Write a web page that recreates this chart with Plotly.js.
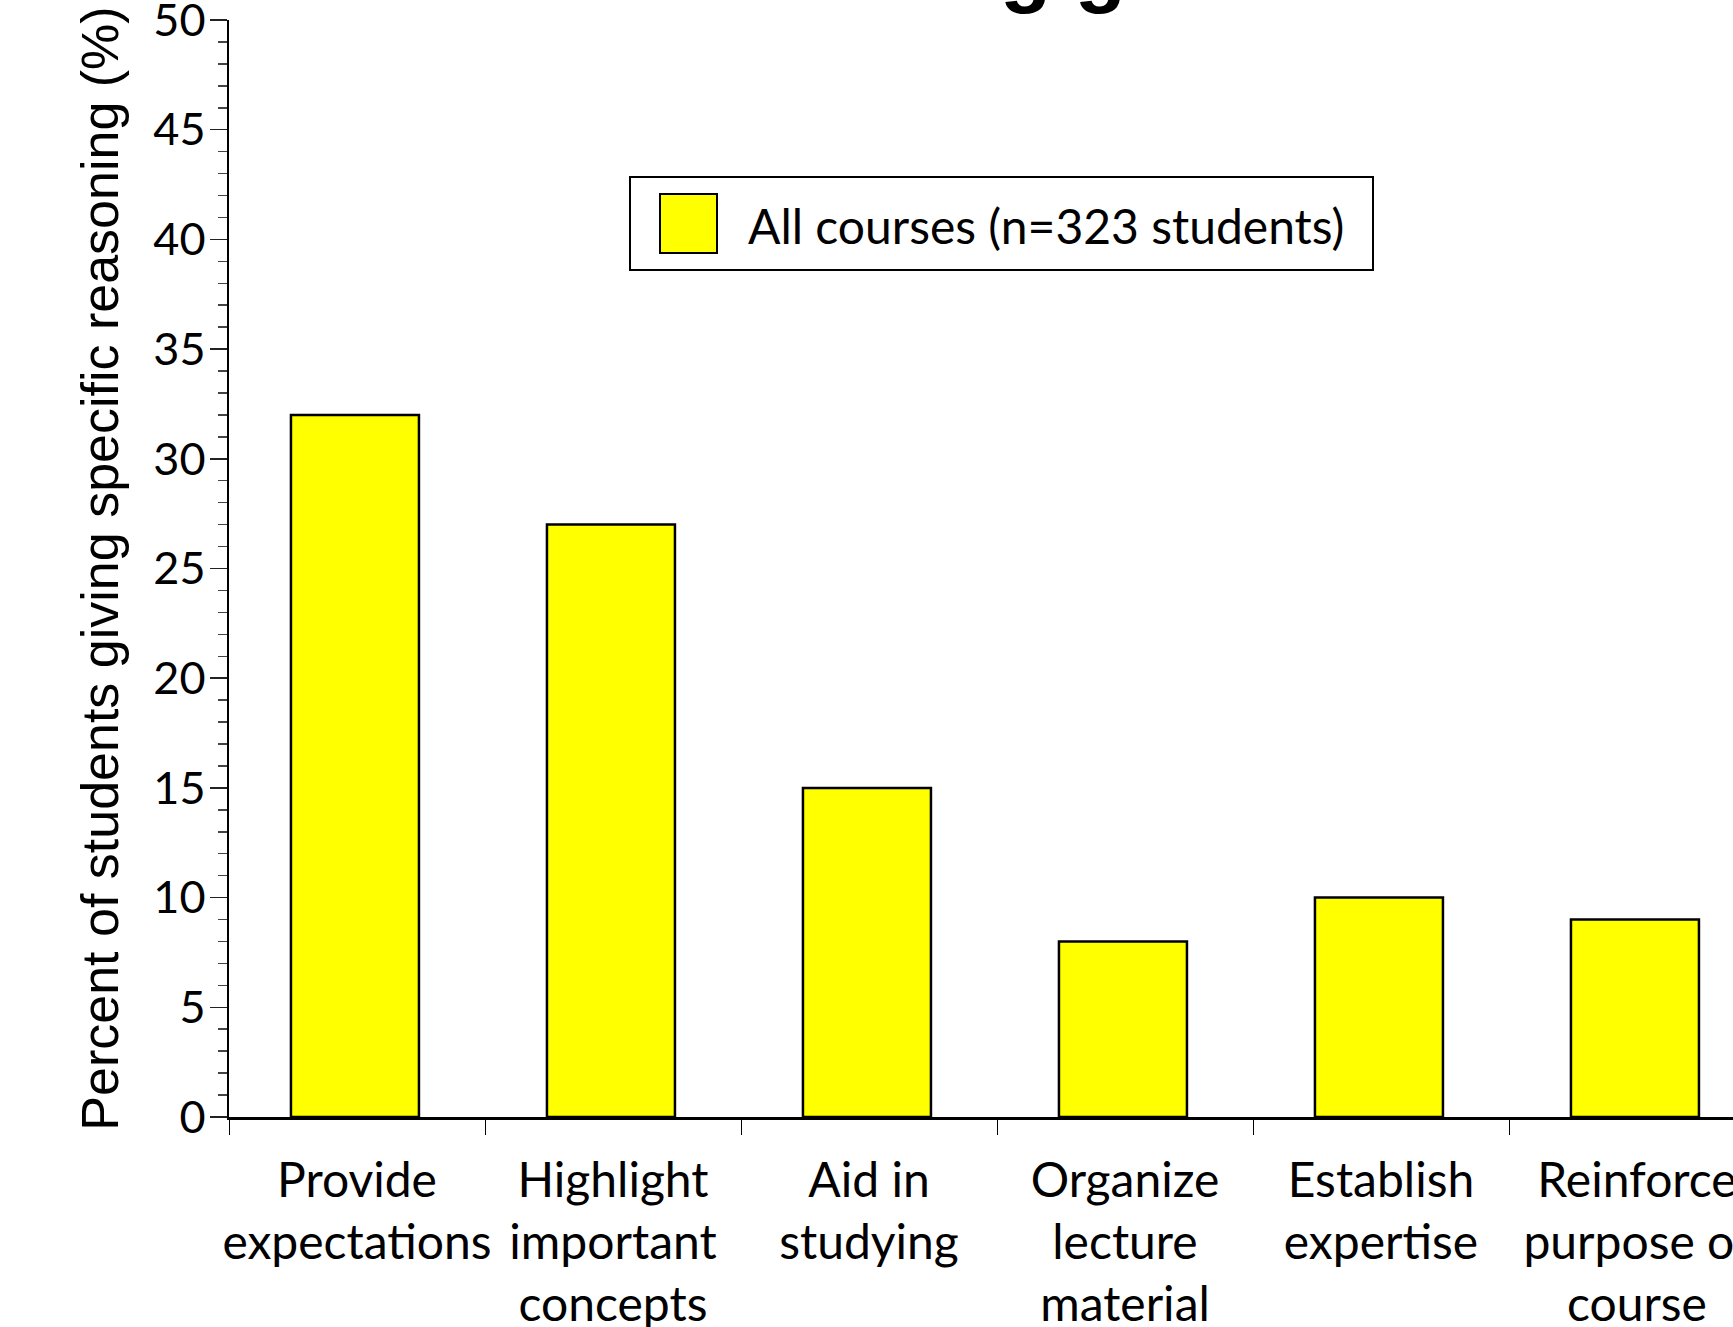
<!DOCTYPE html>
<html>
<head>
<meta charset="utf-8">
<script src="https://cdn.plot.ly/plotly-3.0.1.min.js"></script>
<style>
  html, body { margin: 0; padding: 0; background: #ffffff; overflow: hidden; }
  #chart { width: 1733px; height: 1327px; }
</style>
</head>
<body>
<div id="chart"></div>
<script>
// Reasons students gave, share of all responses (%)
const categories = [
  "Provide<br>expectations",
  "Highlight<br>important<br>concepts",
  "Aid in<br>studying",
  "Organize<br>lecture<br>material",
  "Establish<br>expertise",
  "Reinforce<br>purpose of<br>course"
];
const percentStudents = [32, 27, 15, 8, 10, 9];
const seriesName = "All courses (n=323 students)";
const yTickValues = [0, 5, 10, 15, 20, 25, 30, 35, 40, 45, 50];

const W = 1733, H = 1327;
const M = { l: 229, r: 0, t: 20, b: 210 };
const plotW = W - M.l - M.r;
const plotH = H - M.t - M.b;
// pixel -> paper helpers for the hand-built legend box
const px = x => (x - M.l) / plotW;
const py = y => (H - M.b - y) / plotH;

const barColor = "#ffff00";

const trace = {
  type: "bar",
  x: categories,
  y: percentStudents,
  name: seriesName,
  width: 0.5,
  offset: -0.258,
  marker: { color: barColor, line: { color: "#000000", width: 2.5 } },
  hoverinfo: "x+y"
};

const layout = {
  width: W,
  height: H,
  margin: M,
  paper_bgcolor: "#ffffff",
  plot_bgcolor: "#ffffff",
  showlegend: false,
  font: { family: "Lato, 'Open Sans', sans-serif", color: "#000000" },
  xaxis: {
    type: "category",
    range: [-0.5, -0.5 + plotW / 256],
    tickson: "boundaries",
    ticks: "outside",
    ticklen: 15,
    tickwidth: 1,
    tickcolor: "#000000",
    showline: true,
    linecolor: "#000000",
    linewidth: 3,
    showgrid: false,
    zeroline: false,
    tickfont: { family: "Lato, sans-serif", size: 48, color: "#000000" },
    tickangle: 0,
    ticklabelstandoff: 19,
    automargin: false
  },
  yaxis: {
    range: [0, 50],
    tickvals: yTickValues,
    ticks: "outside",
    ticklen: 17,
    tickwidth: 1.5,
    tickcolor: "#222222",
    minor: { dtick: 1, ticks: "outside", ticklen: 9, tickwidth: 1.5, tickcolor: "#444444", showgrid: false },
    showline: true,
    linecolor: "#000000",
    linewidth: 2.5,
    showgrid: false,
    zeroline: false,
    tickfont: { family: "Lato, sans-serif", size: 45, color: "#000000" },
    ticklabelstandoff: -5,
    ticklabeloverflow: "allow",
    automargin: false,
    title: {
      text: "Percent of students giving specific reasoning (%)",
      font: { family: "'Liberation Sans', Arial, sans-serif", size: 52, color: "#000000" },
      standoff: 18
    }
  },
  shapes: [
    // legend frame
    { type: "rect", xref: "paper", yref: "paper",
      x0: px(630), x1: px(1373), y0: py(270), y1: py(177),
      line: { color: "#000000", width: 2 }, fillcolor: "#ffffff" },
    // legend swatch
    { type: "rect", xref: "paper", yref: "paper",
      x0: px(660), x1: px(717), y0: py(253), y1: py(194),
      line: { color: "#000000", width: 2 }, fillcolor: barColor }
  ],
  annotations: [
    { xref: "paper", yref: "paper", x: px(746), y: py(225),
      xanchor: "left", yanchor: "middle", showarrow: false,
      text: seriesName,
      font: { family: "Lato, sans-serif", size: 48, color: "#000000" } },
    // chart heading, running above the top edge
    { xref: "paper", yref: "paper", x: px(620), y: 1, yshift: 3,
      xanchor: "left", yanchor: "bottom", showarrow: false,
      text: "<b>Reasoning given</b>",
      font: { family: "'Liberation Sans', Arial, sans-serif", size: 84, color: "#000000" } }
  ]
};

Plotly.newPlot("chart", [trace], layout, { displayModeBar: false, staticPlot: true });
</script>
</body>
</html>
